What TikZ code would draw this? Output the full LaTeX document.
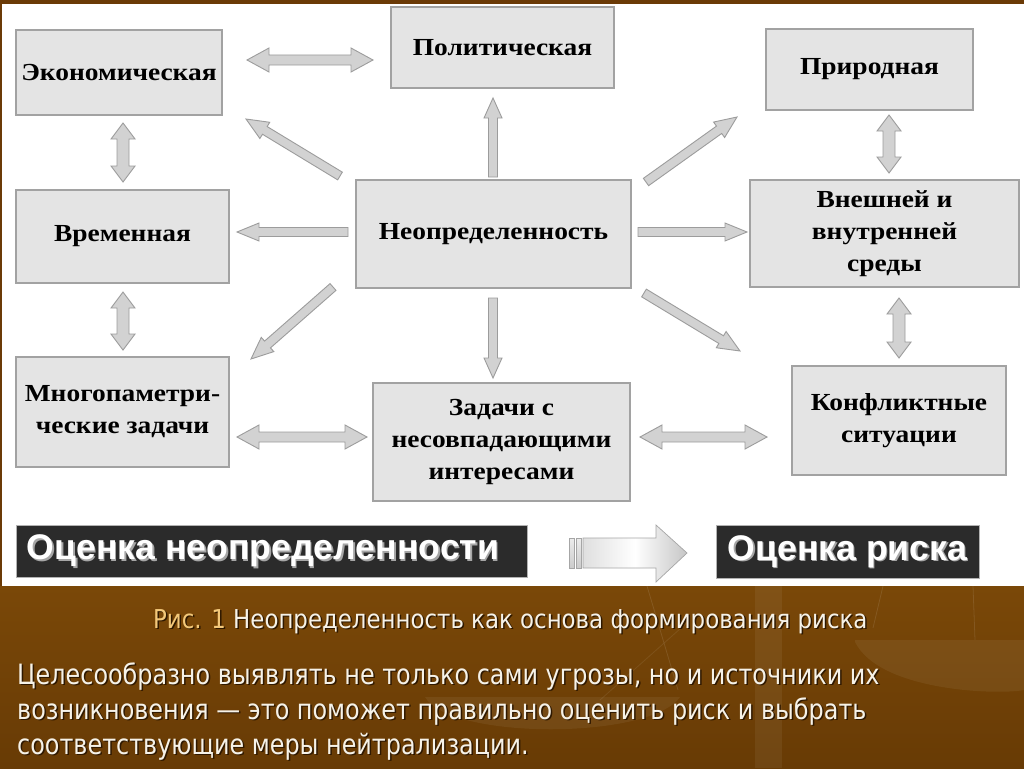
\documentclass[tikz,border=0pt]{standalone}
\usepackage{fontspec}
\setmainfont{Liberation Serif}
\newfontfamily\boxfont[FakeStretch=1.12]{Liberation Serif}
\newfontfamily\barfont{Liberation Sans}
\newfontfamily\capfont[FakeStretch=0.88]{DejaVu Sans}
\newfontfamily\bodyfont[FakeStretch=0.853]{DejaVu Sans}
\usetikzlibrary{calc,positioning}
\definecolor{brownA}{HTML}{6B3A06}
\definecolor{brownB}{HTML}{7A4808}
\definecolor{brownC}{HTML}{683B05}
\definecolor{boxfill}{HTML}{E4E4E4}
\definecolor{boxline}{HTML}{A2A2A2}
\definecolor{arrfill}{HTML}{D2D2D2}
\definecolor{arrline}{HTML}{9C9C9C}
\definecolor{barfill}{HTML}{2B2B2B}
\definecolor{capgold}{HTML}{F3C87A}
\definecolor{captext}{HTML}{F6F2E8}
\definecolor{shadowc}{HTML}{2E1800}
\tikzset{
  box/.style={draw=boxline, line width=1.6pt, fill=boxfill, inner sep=0pt,
    align=center, font=\boxfont\bfseries\fontsize{24.5}{32}\selectfont},
  bar/.style={fill=barfill, draw=gray!60, line width=0.6pt, inner sep=0pt},
  arr/.style={fill=arrfill, draw=arrline, line width=0.9pt, line join=miter},
  bartext/.style={text=white, font=\barfont\bfseries\fontsize{35.6}{36}\selectfont, inner sep=0pt},
  bartextsh/.style={text=gray!70, font=\barfont\bfseries\fontsize{35.6}{36}\selectfont, inner sep=0pt},
  captxt/.style={anchor=base west, inner sep=0pt, font=\capfont\fontsize{26}{30}\selectfont},
  bodytxt/.style={anchor=base west, inner sep=0pt, font=\bodyfont\fontsize{28}{35}\selectfont},
  faint/.style={fill=white, fill opacity=0.06, draw=none}
}
% single block arrow: from #1 to #2, shaft half width #3, head half width #4, head length #5
\newcommand\sarr[5]{%
  \coordinate (hb) at ($(#2)!#5!(#1)$);
  \filldraw[arr] ($(#1)!#3!90:(#2)$) -- ($(hb)!#3!90:(#2)$) -- ($(hb)!#4!90:(#2)$) -- (#2)
    -- ($(hb)!#4!-90:(#2)$) -- ($(hb)!#3!-90:(#2)$) -- ($(#1)!#3!-90:(#2)$) -- cycle;}
% double block arrow
\newcommand\darr[5]{%
  \coordinate (ha) at ($(#1)!#5!(#2)$);
  \coordinate (hb) at ($(#2)!#5!(#1)$);
  \filldraw[arr] (#1) -- ($(ha)!#4!90:(#2)$) -- ($(ha)!#3!90:(#2)$) -- ($(hb)!#3!90:(#2)$)
    -- ($(hb)!#4!90:(#2)$) -- (#2) -- ($(hb)!#4!-90:(#2)$) -- ($(hb)!#3!-90:(#2)$)
    -- ($(ha)!#3!-90:(#2)$) -- ($(ha)!#4!-90:(#2)$) -- cycle;}
\begin{document}
\begin{tikzpicture}[x=1pt,y=-1pt]
\useasboundingbox (0,0) rectangle (1024,768);
% backgrounds
\fill[brownA] (0,0) rectangle (1024,768);
\shade[top color=brownB, bottom color=brownC] (0,586) rectangle (1024,768);
\fill[white] (2,4) rectangle (1024,586);
% faint scales in the background
\fill[faint] (755,586) rectangle (782,768);
\fill[faint] (855,642) .. controls (880,692) and (1000,695) .. (1024,690) -- (1024,640) -- (855,640) -- cycle;
\fill[faint] (425,697) .. controls (450,740) and (650,740) .. (680,697) -- cycle;
\draw[white, opacity=0.10, line width=0.8pt] (647,586) -- (678,690);
\draw[white, opacity=0.10, line width=0.8pt] (883,586) -- (873,628);
\draw[white, opacity=0.10, line width=0.8pt] (973,586) -- (975,640);
\draw[white, opacity=0.08, line width=0.8pt] (690,620) -- (600,700);

% boxes
\node[box, minimum width=206pt, minimum height=85pt] (eco) at (119,72.5) {Экономическая};
\node[box, minimum width=223pt, minimum height=81pt] (pol) at (502.5,47.5) {Политическая};
\node[box, minimum width=207pt, minimum height=81pt] (pri) at (869.5,69.5) {Природная};
\node[box, minimum width=213pt, minimum height=93pt] (vre) at (122.5,236.5) {Временная};
\node[box, minimum width=275pt, minimum height=108pt] (neo) at (493.5,234) {Неопределенность};
\node[box, minimum width=269pt, minimum height=107pt] (vne) at (884.5,233.5) {Внешней и\\внутренней\\среды};
\node[box, minimum width=213pt, minimum height=110pt] (mno) at (122.5,412) {Многопаметри-\\ческие задачи};
\node[box, minimum width=257pt, minimum height=118pt] (zad) at (501.5,442) {Задачи с\\несовпадающими\\интересами};
\node[box, minimum width=214pt, minimum height=109pt] (kon) at (899,420.5) {Конфликтные\\ситуации};

% arrow end coordinates
\coordinate (ep1) at (247,60);   \coordinate (ep2) at (373,60);
\coordinate (ev1) at (123,123);  \coordinate (ev2) at (123,182);
\coordinate (vm1) at (123,292);  \coordinate (vm2) at (123,350);
\coordinate (pv1) at (889,115);  \coordinate (pv2) at (889,173);
\coordinate (vk1) at (899,298);  \coordinate (vk2) at (899,358);
\coordinate (mz1) at (237,437);  \coordinate (mz2) at (367,437);
\coordinate (zk1) at (640,437);  \coordinate (zk2) at (767,437);
\coordinate (nE) at (340,176);   \coordinate (tE) at (246,119);
\coordinate (nP) at (493,177);   \coordinate (tP) at (493,98);
\coordinate (nR) at (646,182);   \coordinate (tR) at (737,117);
\coordinate (nV) at (348,232);   \coordinate (tV) at (237,232);
\coordinate (nW) at (638,232);   \coordinate (tW) at (747,232);
\coordinate (nM) at (333,287);   \coordinate (tM) at (251,359);
\coordinate (nZ) at (493,298);   \coordinate (tZ) at (493,378);
\coordinate (nK) at (644,293);   \coordinate (tK) at (740,351);

% double arrows between neighbouring boxes
\darr{ep1}{ep2}{5pt}{12pt}{22pt}
\darr{ev1}{ev2}{6pt}{12pt}{16pt}
\darr{vm1}{vm2}{6pt}{12pt}{16pt}
\darr{pv1}{pv2}{6pt}{12pt}{16pt}
\darr{vk1}{vk2}{6pt}{12pt}{16pt}
\darr{mz1}{mz2}{5pt}{12pt}{22pt}
\darr{zk1}{zk2}{5pt}{12pt}{22pt}
% single arrows out of the centre
\sarr{nE}{tE}{4.5pt}{9.5pt}{22pt}
\sarr{nP}{tP}{4.5pt}{9pt}{20pt}
\sarr{nR}{tR}{4.5pt}{9.5pt}{22pt}
\sarr{nV}{tV}{4.5pt}{9pt}{22pt}
\sarr{nW}{tW}{4.5pt}{9pt}{22pt}
\sarr{nM}{tM}{4.5pt}{9.5pt}{22pt}
\sarr{nZ}{tZ}{4.5pt}{9pt}{20pt}
\sarr{nK}{tK}{4.5pt}{9.5pt}{22pt}

% bottom bars
\node[bar, minimum width=511pt, minimum height=52pt] (ou) at (271.5,551) {};
\node[bar, minimum width=263pt, minimum height=53pt] (or) at (847.5,551.5) {};
\node[bartextsh, anchor=west] at ($(ou.west)+(12.5,1.5)$) {Оценка неопределенности};
\node[bartext, anchor=west] (out) at ($(ou.west)+(11,0)$) {Оценка неопределенности};
\node[bartextsh] at ($(or.center)+(1.5,1.5)$) {Оценка риска};
\node[bartext] (ort) at (or.center) {Оценка риска};

% big arrow between the bars
\coordinate (ba1) at (569,553);
\coordinate (ba2) at (687,553);
\shade[left color=gray!25, right color=gray!45, middle color=white, draw=gray!70, line width=0.7pt]
  (583,538) -- (656,538) -- (656,525) -- (ba2) -- (656,582) -- (656,568) -- (583,568) -- cycle;
\shade[top color=gray!15, bottom color=gray!40, draw=gray!70, line width=0.7pt] (569,538) rectangle (574,568);
\shade[top color=gray!15, bottom color=gray!40, draw=gray!70, line width=0.7pt] (576,538) rectangle (581,568);

% caption and text
\node[captxt, text=shadowc] at (154.5,629.5) {Рис. 1 Неопределенность как основа формирования риска};
\node[captxt] (cap) at (153,628) {\textcolor{capgold}{Рис. 1} \textcolor{captext}{Неопределенность как основа формирования риска}};
\node[bodytxt, text=shadowc] at (18.5,685.5) {Целесообразно выявлять не только сами угрозы, но и источники их};
\node[bodytxt, text=captext] (l1) at (17,684) {Целесообразно выявлять не только сами угрозы, но и источники их};
\node[bodytxt, text=shadowc] at (18.5,720.5) {возникновения — это поможет правильно оценить риск и выбрать};
\node[bodytxt, text=captext] (l2) at (17,719) {возникновения — это поможет правильно оценить риск и выбрать};
\node[bodytxt, text=shadowc] at (18.5,755.5) {соответствующие меры нейтрализации.};
\node[bodytxt, text=captext] (l3) at (17,754) {соответствующие меры нейтрализации.};
\end{tikzpicture}
\end{document}
